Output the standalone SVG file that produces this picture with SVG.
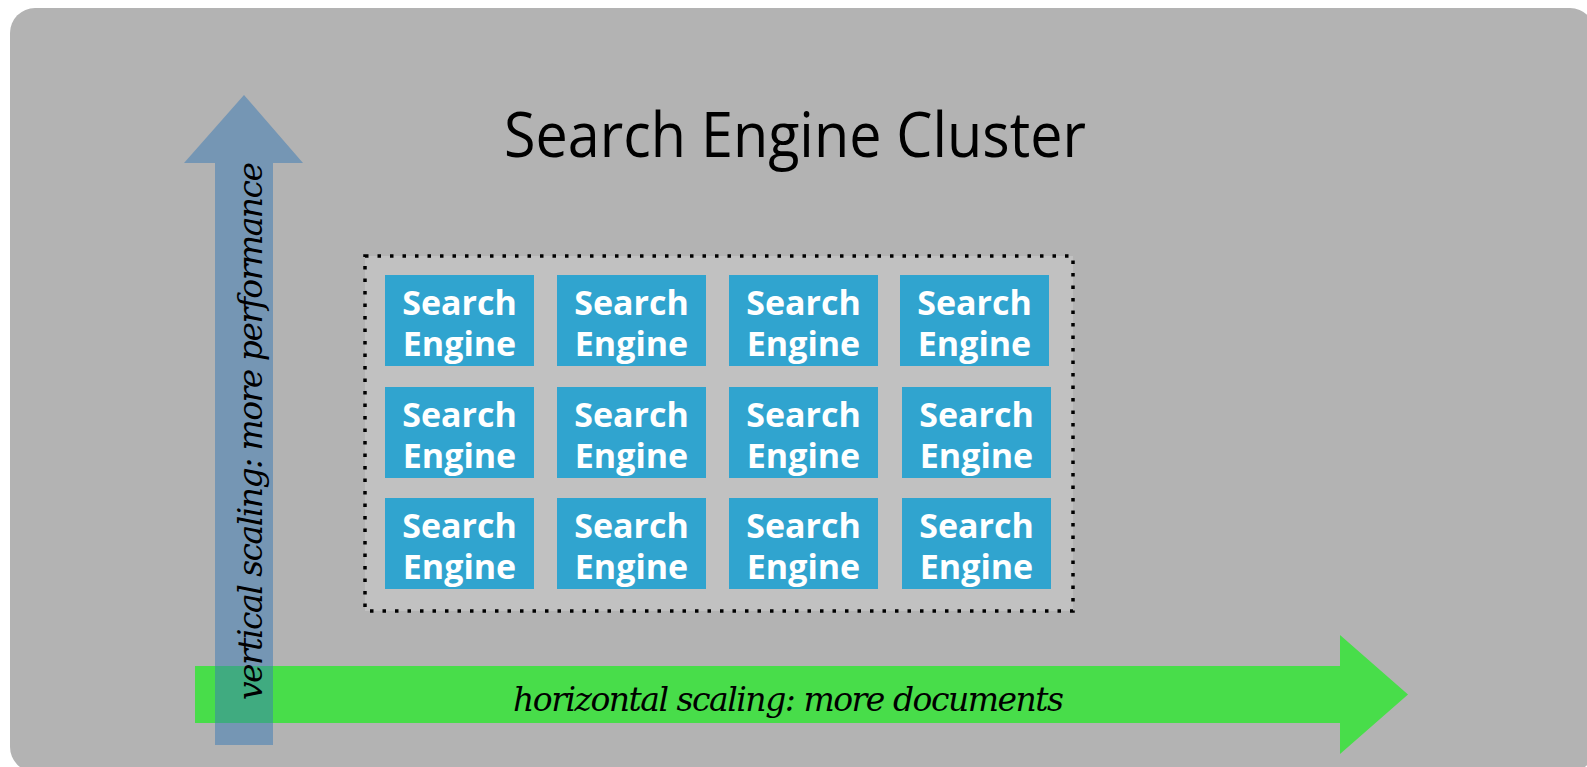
<svg xmlns="http://www.w3.org/2000/svg" width="1587" height="767" viewBox="0 0 1587 767">
  <style>
    .bg { fill: #b3b3b3; }
    .cluster { fill: #c1c1c1; stroke: #000; stroke-width: 3.5; stroke-dasharray: 3.5 9; }
    .se rect { fill: #30a4cf; }
    .se text { font-family: "Open Sans", "Noto Sans", sans-serif; font-weight: bold; font-size: 34px; fill: #fff; text-anchor: middle; }
    .title { font-family: "Open Sans", "Noto Sans", sans-serif; font-size: 62px; fill: #000; text-anchor: middle; }
    .axis { font-family: "DejaVu Serif", "Liberation Serif", serif; font-style: italic; font-size: 33px; fill: #000; text-anchor: middle; }
  </style>
  <rect class="bg" x="10" y="8" width="1585" height="764" rx="25" ry="25"/>
  <g id="title">
    <text class="title" x="795" y="157" textLength="582" lengthAdjust="spacingAndGlyphs">Search Engine Cluster</text>
  </g>
  <g id="cluster">
    <rect class="cluster" x="365" y="256" width="708" height="355"/>
  </g>
  <g id="se-1-1" class="se"><rect x="385" y="275" width="149" height="91"/><text x="459.5" y="315">Search</text><text x="459.5" y="356">Engine</text></g>
  <g id="se-1-2" class="se"><rect x="557" y="275" width="149" height="91"/><text x="631.5" y="315">Search</text><text x="631.5" y="356">Engine</text></g>
  <g id="se-1-3" class="se"><rect x="729" y="275" width="149" height="91"/><text x="803.5" y="315">Search</text><text x="803.5" y="356">Engine</text></g>
  <g id="se-1-4" class="se"><rect x="900" y="275" width="149" height="91"/><text x="974.5" y="315">Search</text><text x="974.5" y="356">Engine</text></g>
  <g id="se-2-1" class="se"><rect x="385" y="387" width="149" height="91"/><text x="459.5" y="427">Search</text><text x="459.5" y="468">Engine</text></g>
  <g id="se-2-2" class="se"><rect x="557" y="387" width="149" height="91"/><text x="631.5" y="427">Search</text><text x="631.5" y="468">Engine</text></g>
  <g id="se-2-3" class="se"><rect x="729" y="387" width="149" height="91"/><text x="803.5" y="427">Search</text><text x="803.5" y="468">Engine</text></g>
  <g id="se-2-4" class="se"><rect x="902" y="387" width="149" height="91"/><text x="976.5" y="427">Search</text><text x="976.5" y="468">Engine</text></g>
  <g id="se-3-1" class="se"><rect x="385" y="498" width="149" height="91"/><text x="459.5" y="538">Search</text><text x="459.5" y="579">Engine</text></g>
  <g id="se-3-2" class="se"><rect x="557" y="498" width="149" height="91"/><text x="631.5" y="538">Search</text><text x="631.5" y="579">Engine</text></g>
  <g id="se-3-3" class="se"><rect x="729" y="498" width="149" height="91"/><text x="803.5" y="538">Search</text><text x="803.5" y="579">Engine</text></g>
  <g id="se-3-4" class="se"><rect x="902" y="498" width="149" height="91"/><text x="976.5" y="538">Search</text><text x="976.5" y="579">Engine</text></g>
  <g id="connectors">
    <g id="horizontal-arrow">
      <polygon points="195,666 1340,666 1340,635 1408,694.5 1340,754 1340,723 195,723" fill="#48dd4a"/>
      <text class="axis" x="788.5" y="711" textLength="551">horizontal scaling: more documents</text>
    </g>
    <g id="vertical-arrow">
      <polygon points="244,95 303,163 273,163 273,745 215,745 215,163 184,163" fill="#377ab5" fill-opacity="0.5"/>
      <text class="axis" transform="translate(262,431) rotate(-90)" x="0" y="0" textLength="538">vertical scaling: more performance</text>
    </g>
  </g>
</svg>
